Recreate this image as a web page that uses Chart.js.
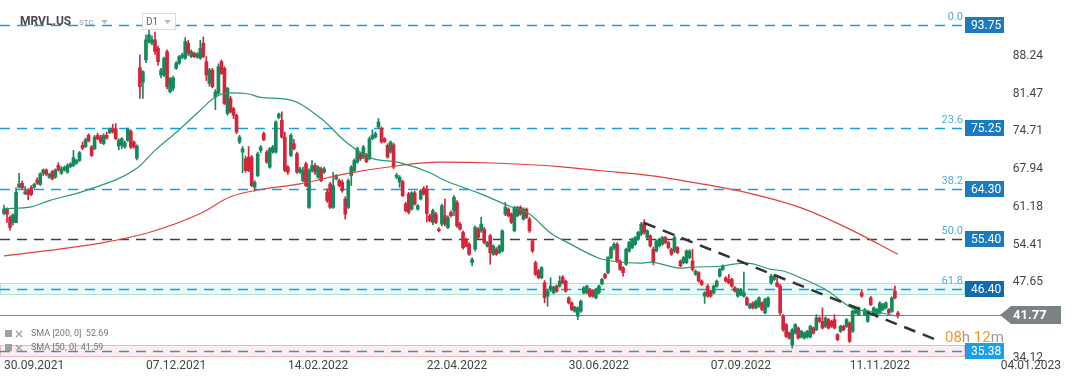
<!DOCTYPE html>
<html>
<head>
<meta charset="utf-8">
<script src="https://cdn.jsdelivr.net/npm/chart.js@4.4.0/dist/chart.umd.min.js"></script>
<style>
  html, body { margin: 0; padding: 0; background: #fff; }
  #wrap { position: relative; width: 1072px; height: 382px; }
</style>
</head>
<body>
<div id="wrap"><canvas id="chart" width="1072" height="382"></canvas></div>
<script>
// MRVL.US daily candles
const symbol = "MRVL.US";
const dateLabels = ["30.09.2021", "07.12.2021", "14.02.2022", "22.04.2022", "30.06.2022", "07.09.2022", "11.11.2022", "04.01.2023"];
const dateBars = [10, 57, 104, 150, 197, 244, 290, 340];
const yTicks = [34.12, 47.65, 54.41, 61.18, 67.94, 74.71, 81.47, 88.24];

// [open, high, low, close]
const candles = [
  [60.0,61.5,59.8,60.8],[60.8,61.0,58.4,59.9],[59.3,59.6,57.0,57.5],[58.4,59.9,57.9,59.8],[58.4,64.6,58.3,63.8],
  [64.7,67.2,64.6,65.3],[65.4,65.8,64.3,64.6],[63.5,64.8,63.4,63.9],[64.2,64.4,62.5,63.4],[64.6,65.0,63.2,63.4],
  [64.7,65.4,64.5,65.2],[66.0,66.4,65.2,65.4],[65.2,67.3,65.0,67.1],[67.2,68.0,66.8,67.8],[67.8,68.0,66.8,67.0],
  [66.5,67.2,66.3,67.0],[67.5,67.7,66.0,66.2],[66.5,68.0,66.3,67.8],[68.6,69.1,67.6,67.8],[67.2,68.4,67.0,68.0],
  [67.8,68.5,67.6,68.3],[67.4,68.9,67.2,68.6],[68.4,69.1,68.2,68.9],[68.6,71.3,68.4,70.0],[69.0,69.7,68.8,69.5],
  [69.5,71.1,69.3,70.9],[72.2,72.8,71.4,71.7],[72.0,73.5,71.8,73.2],[74.0,74.3,72.8,73.0],[71.9,72.2,70.2,70.4],
  [71.6,74.0,71.4,73.7],[74.0,74.4,73.2,73.4],[73.7,74.0,72.5,72.8],[72.5,74.3,72.3,74.0],[74.0,74.6,73.3,73.5],
  [74.5,75.3,74.3,75.1],[75.2,76.0,74.4,74.6],[75.2,76.1,73.2,73.4],[72.1,73.4,71.4,73.1],[72.2,73.6,71.6,73.4],
  [71.9,73.0,71.7,72.7],[73.1,75.3,72.9,75.1],[74.7,75.0,71.6,71.9],[72.8,73.0,71.7,71.9],[69.9,72.3,69.6,72.1],
  [86.1,88.4,80.6,82.7],[83.5,85.6,80.6,85.4],[87.5,92.0,87.0,91.1],[90.8,93.0,90.5,92.0],[90.5,91.8,90.2,91.1],
  [91.1,92.5,88.5,89.0],[89.6,90.0,86.5,87.2],[84.8,86.0,84.3,85.7],[84.8,88.0,84.5,87.8],[89.0,89.3,82.3,82.7],
  [81.8,84.4,81.6,84.2],[82.4,84.6,82.0,84.3],[86.0,87.2,85.8,86.9],[86.9,88.3,86.7,88.1],[88.0,88.7,87.7,88.4],
  [87.8,91.5,87.6,90.8],[90.5,91.0,88.3,88.7],[88.1,89.3,87.9,89.0],[88.7,88.9,87.9,88.1],[88.0,88.8,87.8,88.6],
  [87.8,91.0,87.6,89.6],[90.5,91.6,87.9,88.1],[87.2,88.1,83.8,84.8],[83.3,86.0,82.8,85.7],[85.7,86.0,82.5,82.7],
  [80.9,82.2,78.6,81.8],[81.5,86.8,81.3,86.3],[87.2,87.5,84.9,85.1],[86.0,86.3,79.5,79.7],[77.9,82.6,77.6,82.4],
  [80.6,81.0,78.0,78.2],[78.8,79.0,77.0,77.6],[77.6,77.8,74.3,74.6],[72.8,74.0,72.5,73.7],[71.0,72.0,67.3,71.6],
  [69.8,70.3,67.4,67.7],[70.1,72.0,67.5,67.7],[70.1,70.4,64.8,65.0],[64.7,65.9,64.0,65.6],[66.8,71.0,66.6,70.7],
  [71.3,72.2,70.9,71.9],[74.3,74.6,73.0,73.2],[71.0,71.3,69.0,69.2],[68.3,71.8,68.1,71.6],[71.0,72.2,70.8,71.9],
  [71.0,76.6,70.8,76.4],[77.2,78.0,77.0,77.8],[76.7,78.2,73.5,73.7],[73.7,74.6,67.5,67.7],[68.3,68.6,67.0,67.4],
  [70.4,74.3,70.2,74.0],[72.5,73.3,71.4,71.6],[70.7,71.0,67.2,67.4],[67.4,68.3,67.2,68.0],[65.9,68.3,65.7,67.7],
  [68.9,69.2,64.8,65.0],[61.1,68.0,60.9,67.7],[67.7,69.5,67.4,68.6],[68.6,69.0,67.0,67.4],[66.5,68.6,66.3,68.3],
  [68.0,68.3,65.7,65.9],[67.4,68.3,67.2,68.0],[63.8,64.4,62.0,62.3],[65.3,65.6,60.9,61.1],[61.1,67.4,60.9,65.0],
  [66.2,67.0,66.0,66.8],[65.9,66.2,64.8,65.0],[65.6,66.0,63.8,64.1],[62.6,63.0,59.0,59.9],[61.1,66.2,60.9,65.9],
  [66.8,68.6,65.0,68.3],[67.7,69.8,67.5,69.5],[69.2,71.9,69.0,71.6],[70.7,71.0,69.5,69.8],[70.1,72.2,69.8,71.9],
  [70.5,70.8,69.1,69.3],[69.8,73.7,69.6,73.4],[73.4,75.0,73.2,74.0],[73.7,74.6,73.5,74.3],[75.5,77.0,75.2,76.4],
  [75.2,75.5,72.6,72.8],[73.4,73.6,72.7,72.9],[72.2,72.5,69.9,70.1],[71.0,73.0,70.8,72.8],[72.3,72.6,68.0,68.3],
  [66.5,67.2,66.2,66.9],[65.6,66.8,64.7,66.5],[65.7,66.0,63.0,63.2],[61.7,62.0,60.3,60.5],[63.5,63.8,59.9,60.2],
  [60.8,63.9,60.6,63.7],[63.7,64.0,61.5,61.7],[60.8,61.6,60.6,61.4],[62.6,64.3,62.4,64.1],[64.5,64.8,63.3,63.5],
  [64.3,65.0,58.5,60.0],[59.6,59.9,58.5,58.7],[58.4,60.8,58.0,60.5],[59.9,60.2,58.2,58.4],[57.2,57.5,56.7,56.9],
  [58.1,61.7,57.8,61.4],[59.6,62.6,57.8,58.1],[57.5,59.6,57.3,59.3],[60.2,60.5,59.4,59.6],[60.5,63.2,59.6,62.9],
  [62.0,62.3,57.5,57.8],[58.1,58.4,57.0,57.2],[56.6,56.9,53.6,53.9],[55.4,55.6,54.0,54.2],[54.5,54.8,52.5,52.7],
  [51.2,52.1,50.6,51.8],[53.6,57.8,53.3,57.5],[57.2,57.5,55.5,55.7],[56.9,59.3,56.6,58.1],[57.2,57.5,54.6,54.8],
  [54.2,55.0,54.0,54.8],[56.0,56.3,50.9,53.0],[52.7,54.4,52.5,54.2],[53.6,53.9,52.5,52.7],[53.0,54.4,52.8,54.2],
  [53.3,57.1,53.1,56.9],[59.9,62.0,59.6,61.1],[60.8,61.0,59.4,59.6],[59.9,60.1,58.2,58.4],[56.9,61.3,56.7,61.1],
  [59.6,61.3,59.4,61.1],[61.1,61.4,59.7,59.9],[59.0,61.0,58.8,60.8],[60.8,61.0,59.1,59.3],[59.0,59.3,56.6,56.9],
  [55.1,55.4,53.0,53.3],[51.2,51.5,48.9,49.1],[49.7,50.0,48.3,48.5],[48.5,50.5,48.3,50.3],[47.6,48.0,44.0,44.9],
  [45.2,46.4,43.4,46.1],[46.4,48.5,46.0,47.0],[45.8,47.0,45.6,46.8],[47.0,47.2,45.9,46.1],[47.0,48.8,46.8,47.9],
  [48.6,48.9,47.4,47.6],[47.9,48.1,45.9,46.1],[44.9,45.1,43.8,44.0],[44.0,44.2,42.6,42.8],[42.5,43.4,42.3,43.2],
  [41.6,43.3,41.0,43.1],[42.5,44.5,42.3,44.3],[45.8,46.9,45.6,46.7],[45.8,47.2,45.6,47.0],[46.4,46.6,45.0,45.2],
  [46.2,46.4,45.0,45.2],[44.9,46.6,44.7,46.4],[45.8,47.2,45.6,47.0],[47.4,48.4,47.2,48.2],[49.1,49.3,48.3,48.5],
  [49.4,52.3,49.2,52.1],[52.1,54.1,51.9,53.9],[53.9,54.8,53.5,54.5],[54.5,54.8,51.2,51.5],[51.5,51.7,49.8,50.0],
  [50.3,50.5,48.8,49.4],[50.9,53.8,50.7,53.6],[53.3,55.0,53.1,54.8],[53.9,55.6,53.7,55.4],[54.5,55.9,54.3,55.7],
  [55.4,56.8,55.2,56.6],[56.3,58.4,56.0,58.1],[58.4,58.9,56.3,56.6],[55.7,57.1,55.5,56.9],[56.0,56.2,54.0,54.2],
  [53.6,54.0,50.8,51.2],[53.3,55.3,53.1,55.1],[54.2,55.6,54.0,55.4],[54.5,55.9,54.3,55.7],[55.7,55.9,54.6,54.8],
  [54.8,55.0,53.7,53.9],[53.6,53.8,52.5,52.7],[53.3,56.2,53.0,55.7],[53.9,54.1,52.8,53.0],[51.5,51.7,50.4,50.6],
  [51.2,52.3,51.0,52.1],[51.2,53.5,51.0,53.3],[52.1,53.5,51.9,53.3],[51.5,53.6,49.7,50.0],[49.1,49.9,48.9,49.7],
  [49.4,49.6,47.7,47.9],[47.9,48.1,47.1,47.3],[45.2,46.0,43.9,45.8],[47.0,47.3,45.0,45.2],[46.1,46.3,45.0,45.2],
  [45.8,47.2,45.6,47.0],[47.0,48.1,46.8,47.9],[48.8,50.2,48.6,50.0],[50.0,50.8,49.8,50.6],[48.5,48.7,47.7,47.9],
  [48.2,49.1,47.4,47.6],[48.2,48.4,46.8,47.0],[46.7,46.9,45.9,46.1],[45.2,46.6,45.0,46.4],[45.5,46.6,45.3,46.4],
  [45.2,49.5,45.0,45.8],[44.9,45.1,43.5,43.7],[43.1,43.9,42.9,43.7],[44.0,44.2,42.9,43.1],[43.1,44.5,42.9,44.3],
  [43.4,45.1,43.2,44.9],[44.0,44.2,42.6,42.8],[42.2,44.8,42.0,44.6],[43.4,45.1,43.2,44.9],[47.6,49.1,47.3,48.8],
  [48.2,49.0,48.0,48.8],[47.6,48.5,46.8,47.0],[47.0,47.3,41.9,42.2],[41.6,41.9,38.9,39.2],[40.1,40.3,37.8,38.0],
  [38.6,38.8,37.5,37.7],[36.5,39.4,35.9,39.2],[38.6,40.3,38.4,40.1],[39.5,39.7,37.5,37.7],[37.9,39.1,37.7,38.9],
  [37.7,38.8,37.5,38.6],[37.9,39.1,37.7,38.9],[37.9,40.0,37.7,39.8],[39.5,39.7,38.4,38.6],[39.2,41.9,39.0,41.3],
  [41.3,41.5,40.5,40.7],[40.7,43.1,39.3,39.5],[39.8,41.5,39.6,41.3],[41.0,41.2,39.3,39.5],[40.7,40.9,39.6,39.8],
  [41.0,41.9,39.3,39.5],[38.3,38.5,37.2,37.4],[38.9,40.0,38.7,39.8],[39.8,40.0,39.0,39.2],[39.8,41.2,39.6,41.0],
  [40.4,40.6,36.9,37.1],[38.9,42.7,38.7,42.5],[42.2,43.3,42.0,43.1],[41.9,43.3,41.7,43.1],[45.8,46.4,45.0,45.2],
  [41.9,43.0,41.7,42.8],[40.7,42.7,40.5,42.5],[44.9,45.2,43.5,43.7],[41.9,43.3,41.7,43.1],[41.6,43.0,41.4,42.8],
  [42.2,44.2,42.0,44.0],[42.8,43.9,42.6,43.7],[43.1,44.2,42.9,44.0],[42.8,43.0,42.0,42.2],[42.5,45.1,42.3,44.9],
  [46.1,47.0,44.7,44.9],[42.2,42.5,41.3,41.77]
];

const sma50Bars = [0, 9, 15, 27, 44, 50, 57, 65, 70, 75, 81, 85, 95, 105, 113, 116, 121, 131, 141, 146, 157, 167, 174, 181, 187, 197, 201, 211, 214, 224, 228, 238, 241, 246, 254, 258, 265, 272, 282, 287, 296];
const sma50 = [60.85, 61.2, 62.3, 64.1, 68.1, 71.3, 74.5, 78.5, 80.85, 81.6, 81.4, 80.8, 80.3, 77.0, 72.9, 71.7, 70.0, 69.1, 67.3, 65.9, 63.7, 61.4, 59.9, 56.5, 54.7, 52.0, 51.5, 51.1, 51.3, 50.2, 50.4, 50.6, 50.9, 51.1, 50.0, 49.7, 48.2, 46.4, 42.8, 42.5, 41.6];
const sma200Bars = [0, 15, 32, 48, 65, 75, 85, 98, 113, 131, 144, 164, 184, 197, 214, 230, 247, 264, 280, 296];
const sma200 = [52.4, 53.4, 54.7, 56.6, 60.0, 63.0, 64.3, 65.3, 67.1, 68.6, 69.2, 69.0, 68.4, 67.7, 66.8, 65.4, 63.6, 61.0, 57.2, 52.7];

const trendBars = [212, 310];
const trendPrices = [58.3, 37.1];

const levels = [93.75, 75.25, 64.30, 55.40, 46.40, 35.38];
const levelNames = ["0.0", "23.6", "38.2", "50.0", "61.8", ""];
const zoneLevels = [46.40, 35.38];
const zoneHalf = 1.07;
const lastPrice = 41.77;
const legendNames = ["SMA [200, 0]", "SMA [50, 0]"];
const legendValues = [52.69, 41.59];

const UP = "#15895a", DOWN = "#d6243b";
const col = c => (c[3] >= c[0] ? UP : DOWN);

const decor = {
  id: "decor",
  beforeDatasetsDraw(chart) {
    const { ctx, scales: { y } } = chart;
    ctx.save();
    // zones
    const zFill = ["rgba(110,215,175,0.13)", "rgba(255,110,110,0.12)"];
    const zEdge = ["rgba(90,205,160,0.45)", "rgba(240,110,110,0.45)"];
    zoneLevels.forEach((lv, k) => {
      const t = Math.round(y.getPixelForValue(lv + zoneHalf)), b = Math.round(y.getPixelForValue(lv - zoneHalf));
      ctx.fillStyle = zFill[k];
      ctx.fillRect(0, t, 965, b - t);
      ctx.strokeStyle = zEdge[k];
      ctx.lineWidth = 1;
      ctx.strokeRect(0.5, t + 0.5, 964, b - t - 1);
    });
    // levels
    ctx.setLineDash([10, 7]);
    ctx.lineWidth = 1.3;
    levels.forEach((lv, k) => {
      const py = Math.round(y.getPixelForValue(lv)) + 0.5;
      ctx.strokeStyle = k === 3 ? "#404040" : "#1d9be6";
      ctx.beginPath(); ctx.moveTo(0, py); ctx.lineTo(965, py); ctx.stroke();
    });
    ctx.setLineDash([]);
    // last price line
    const pp = Math.round(y.getPixelForValue(lastPrice)) + 0.5;
    ctx.strokeStyle = "#7f8589"; ctx.lineWidth = 1;
    ctx.beginPath(); ctx.moveTo(0, pp); ctx.lineTo(1002, pp); ctx.stroke();
    ctx.restore();
  },
  afterDraw(chart) {
    const { ctx, scales: { y } } = chart;
    ctx.save();
    ctx.textBaseline = "middle";
    // level names and value boxes
    const boxCol = ["#1b7bc0", "#1b7bc0", "#1b7bc0", "#1b7bc0", "#0f6cb3", "#1aa0e9"];
    levels.forEach((lv, k) => {
      const py = Math.round(y.getPixelForValue(lv));
      if (levelNames[k]) {
        ctx.font = "11px Roboto";
        ctx.fillStyle = "#52a9e2";
        ctx.textAlign = "right";
        ctx.fillText(levelNames[k], 963, py - 8);
      }
      ctx.fillStyle = boxCol[k];
      ctx.fillRect(965, py - 8, 39, 16);
      ctx.fillStyle = "#fff";
      ctx.font = "12px Roboto";
      ctx.textAlign = "left";
      ctx.fillText(lv.toFixed(2), 971, py + 0.5);
    });
    // last price tag
    const pp = Math.round(y.getPixelForValue(lastPrice));
    ctx.fillStyle = "#7b8286";
    ctx.beginPath();
    ctx.moveTo(1000, pp); ctx.lineTo(1011, pp - 9); ctx.lineTo(1061, pp - 9);
    ctx.lineTo(1061, pp + 9); ctx.lineTo(1011, pp + 9); ctx.closePath(); ctx.fill();
    ctx.fillStyle = "#fff";
    ctx.font = "bold 13px Roboto";
    ctx.textAlign = "left";
    ctx.fillText(lastPrice.toFixed(2), 1013, pp + 0.5);
    // countdown
    ctx.font = "15px Roboto";
    let cx = 945; const cy = 338;
    [["08", "#f7941d"], ["h ", "#9a9a9a"], ["12", "#f7941d"], ["m", "#9a9a9a"]].forEach(([t, c]) => {
      ctx.fillStyle = c; ctx.fillText(t, cx, cy); cx += ctx.measureText(t).width;
    });
    // title
    ctx.font = "bold 12px Roboto";
    ctx.fillStyle = "#4a4a4a";
    ctx.fillText(symbol, 20, 22);
    ctx.font = "8px Roboto";
    ctx.fillStyle = "#9a9a9a";
    ctx.fillText("STC", 79, 23);
    ctx.fillStyle = "#bdbdbd";
    ctx.beginPath(); ctx.moveTo(101, 20); ctx.lineTo(108, 20); ctx.lineTo(104.5, 24); ctx.closePath(); ctx.fill();
    ctx.fillStyle = "#fff"; ctx.strokeStyle = "#dcdcdc";
    ctx.fillRect(142, 13, 34, 17); ctx.strokeRect(142.5, 13.5, 33, 16);
    ctx.font = "10px Roboto"; ctx.fillStyle = "#666";
    ctx.fillText("D1", 146, 22);
    ctx.fillStyle = "#bdbdbd";
    ctx.beginPath(); ctx.moveTo(164, 20); ctx.lineTo(171, 20); ctx.lineTo(167.5, 24); ctx.closePath(); ctx.fill();
    // legend
    legendNames.forEach((n, k) => {
      const ly = 334 + k * 14;
      ctx.fillStyle = "#a0a0a0";
      ctx.fillRect(5, ly - 4, 7, 7);
      ctx.strokeStyle = "#a0a0a0"; ctx.lineWidth = 1.4;
      ctx.beginPath(); ctx.moveTo(16, ly - 3); ctx.lineTo(22, ly + 3); ctx.moveTo(22, ly - 3); ctx.lineTo(16, ly + 3); ctx.stroke();
      ctx.font = "9px Roboto"; ctx.fillStyle = "#777";
      ctx.fillText(n + "  " + legendValues[k].toFixed(2), 31, ly);
    });
    ctx.restore();
  }
};

new Chart(document.getElementById("chart"), {
  type: "bar",
  data: {
    datasets: [
      {
        type: "line", label: "trend", order: 0,
        data: trendBars.map((b, k) => ({ x: b, y: trendPrices[k] })),
        borderColor: "#333", borderWidth: 2.5, borderDash: [12, 8], pointRadius: 0
      },
      {
        type: "line", label: "SMA 50", order: 1,
        data: sma50Bars.map((b, k) => ({ x: b, y: sma50[k] })),
        borderColor: "#2a9a6c", borderWidth: 1.2, pointRadius: 0, cubicInterpolationMode: "monotone"
      },
      {
        type: "line", label: "SMA 200", order: 1,
        data: sma200Bars.map((b, k) => ({ x: b, y: sma200[k] })),
        borderColor: "#e2403c", borderWidth: 1.2, pointRadius: 0, cubicInterpolationMode: "monotone"
      },
      {
        label: "body", order: 2, grouped: false,
        data: candles.map((c, i) => ({ x: i, y: [c[0], c[3]] })),
        backgroundColor: candles.map(col), barThickness: 3, borderWidth: 0, minBarLength: 1
      },
      {
        label: "wick", order: 3, grouped: false,
        data: candles.map((c, i) => ({ x: i, y: [c[2], c[1]] })),
        backgroundColor: candles.map(col), barThickness: 1, borderWidth: 0
      }
    ]
  },
  options: {
    responsive: false,
    animation: false,
    devicePixelRatio: 1,
    layout: { padding: { top: 0, left: 0, right: 0, bottom: 8.6 } },
    plugins: { legend: { display: false }, tooltip: { enabled: false } },
    scales: {
      x: {
        type: "linear", offset: false,
        min: -4 / 3.02, max: (1072 - 4) / 3.02,
        grid: { display: false, drawTicks: false }, border: { display: false },
        afterBuildTicks: s => { s.ticks = dateBars.map(v => ({ value: v })); },
        afterFit: s => { s.paddingLeft = 0; s.paddingRight = 0; },
        ticks: {
          autoSkip: false, maxRotation: 0, padding: 0,
          color: "#444", font: { family: "Roboto", size: 12 },
          callback: (v, i) => dateLabels[i]
        }
      },
      y: {
        type: "linear", position: "right", beginAtZero: false,
        min: 33.95, max: 98.23,
        grid: { display: false, drawTicks: false }, border: { display: false },
        afterBuildTicks: s => { s.ticks = yTicks.map(v => ({ value: v })); },
        afterFit: s => { s.width = 0; s.paddingTop = 0; s.paddingBottom = 0; },
        ticks: {
          mirror: true, crossAlign: "far", padding: -29,
          color: "#444", font: { family: "Roboto", size: 12 },
          callback: v => v.toFixed(2)
        }
      }
    }
  },
  plugins: [decor]
});
</script>
</body>
</html>
